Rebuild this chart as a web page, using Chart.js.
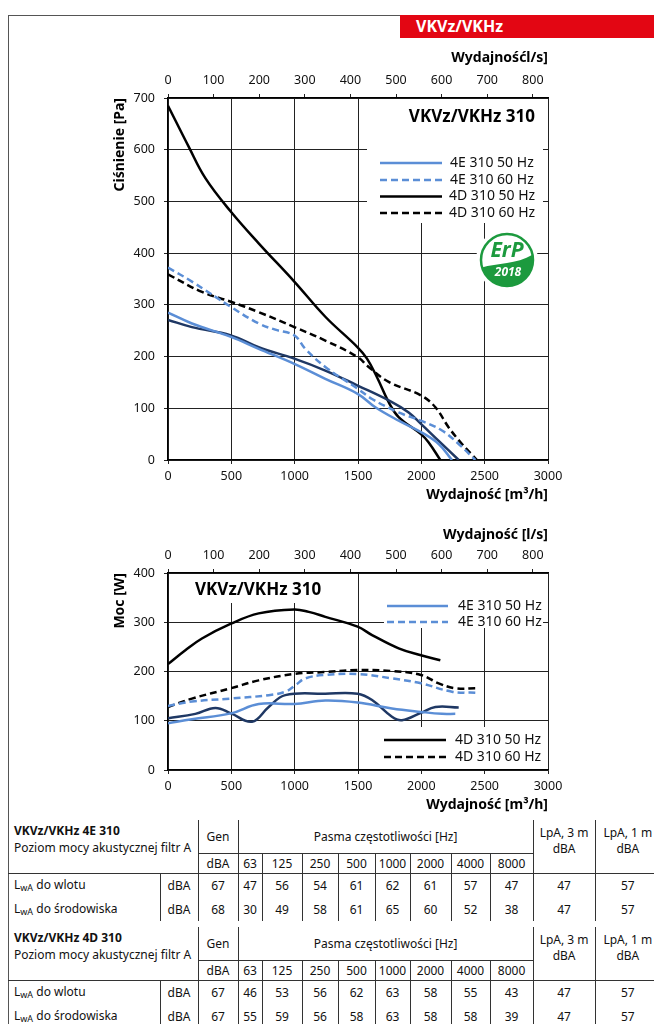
<!DOCTYPE html>
<html>
<head>
<meta charset="utf-8">
<script src="https://cdn.jsdelivr.net/npm/chart.js@4.4.0/dist/chart.umd.min.js"></script>
<style>
  body { margin: 0; width: 654px; height: 1024px; overflow: hidden; background: #fff; position: relative; font-family: "Noto Sans", sans-serif; color: #111; }
  #frame { position: absolute; left: 8px; top: 15px; width: 660px; height: 1020px; border-left: 1.5px solid #555; border-top: 1.5px solid #555; }
  #tag { position: absolute; left: 400px; top: 15px; width: 254px; height: 23px; background: #e30613; color: #fff; font-weight: bold; font-size: 16px; line-height: 23px; padding-left: 16px; box-sizing: border-box; }
  canvas { position: absolute; left: 0; }
  #c1 { top: 40px; }
  #c2 { top: 515px; }
  table.snd { position: absolute; left: 8px; width: 652px; border-collapse: collapse; table-layout: fixed; font-size: 12px; }
  table.snd td { padding: 0; text-align: center; white-space: nowrap; }
  table.snd td.lab { text-align: left; padding-left: 6px; }
  table.snd td.vl { border-left: 1px solid #333; }
  table.snd td.hb { border-bottom: 1px solid #333; }
  table.snd sub { font-size: 9px; vertical-align: -2px; }
</style>
</head>
<body>
<div id="frame"></div>
<div id="tag">VKVz/VKHz</div>
<canvas id="c1" width="654" height="470"></canvas>
<canvas id="c2" width="654" height="305"></canvas>
<script>
// ticks
const mhTicks = [0, 500, 1000, 1500, 2000, 2500, 3000];
const lsTicks = [0, 100, 200, 300, 400, 500, 600, 700, 800];
const paTicks = [0, 100, 200, 300, 400, 500, 600, 700];
const wTicks = [0, 100, 200, 300, 400];

// pressure curves [m3/h, Pa]
const pa4E50 = [[0,285],[189,264],[497,238],[716,215],[997,186],[1242,157],[1497,128],[1637,102],[1821,76],[1997,54],[2137,31],[2242,0]];
const pa4E60 = [[0,372],[189,345],[497,296],[716,264],[847,252],[997,241],[1084,215],[1242,180],[1497,138],[1611,118],[1821,92],[1997,76],[2163,57],[2295,31],[2426,0]];
const pa4D50 = [[0,685],[163,606],[295,545],[497,480],[716,419],[997,345],[1242,277],[1497,218],[1571,196],[1650,160],[1742,112],[1821,83],[1997,50],[2058,34],[2150,0]];
const pa4D60 = [[0,359],[268,325],[497,306],[716,286],[997,257],[1242,231],[1497,199],[1584,180],[1742,151],[1997,125],[2111,102],[2216,63],[2321,31],[2439,0]];
const paNavy = [[0,271],[189,257],[497,241],[716,218],[997,196],[1242,173],[1497,144],[1768,112],[1900,92],[1997,70],[2137,37],[2295,0]];

// power curves [m3/h, W]
const pw4E50 = [[0,95],[189,103],[497,115],[716,134],[997,134],[1242,141],[1497,137],[1768,125],[1997,118],[2163,114],[2268,114]];
const pw4E60 = [[0,130],[189,139],[497,145],[795,152],[926,159],[1005,172],[1084,186],[1242,193],[1497,195],[1768,186],[1997,176],[2242,159],[2426,157]];
const pw4D50 = [[0,215],[137,243],[268,267],[497,297],[716,318],[997,326],[1111,321],[1242,311],[1497,291],[1611,274],[1821,247],[1997,233],[2150,223]];
const pw4D60 = [[0,128],[189,145],[497,166],[716,182],[997,195],[1242,199],[1497,203],[1768,201],[1997,193],[2137,176],[2268,166],[2439,166]];
const pwNavy = [[0,105],[216,114],[374,126],[497,115],[663,98],[795,128],[926,152],[1242,155],[1497,155],[1611,142],[1768,108],[1847,101],[1997,116],[2111,128],[2295,127]];

// acoustic tables
const bands = ['63', '125', '250', '500', '1000', '2000', '4000', '8000'];
const e4Inlet = [67, 47, 56, 54, 61, 62, 61, 57, 47, 47, 57];
const e4Env = [68, 30, 49, 58, 61, 65, 60, 52, 38, 47, 57];
const d4Inlet = [67, 46, 53, 56, 62, 63, 58, 55, 43, 47, 57];
const d4Env = [67, 55, 59, 56, 58, 63, 58, 58, 39, 47, 57];

const FONT = '"Noto Sans", sans-serif';
const LIGHT = '#5b8ed6';
const NAVY = '#1f3864';
const BLACK = '#000';

function ds(label, pts, color, dashed) {
  return {
    label: label,
    data: pts.map(p => ({x: p[0], y: p[1]})),
    borderColor: color,
    borderWidth: 2.5,
    borderDash: dashed ? [7, 4] : [],
    pointRadius: 0,
    tension: 0.4,
    fill: false
  };
}

function fixTicks(list) {
  return function (scale) {
    scale.ticks = list.map(v => ({value: v}));
  };
}

// white boxes, titles, legends and logo drawn on top of the grid
const overlay = {
  id: 'overlay',
  beforeDatasetsDraw(chart, args, opts) {
    const ctx = chart.ctx;
    ctx.save();
    ctx.fillStyle = '#fff';
    (opts.masks || []).forEach(m => ctx.fillRect(m[0], m[1], m[2] - m[0], m[3] - m[1]));
    ctx.restore();
  },
  afterDatasetsDraw(chart, args, opts) {
    const ctx = chart.ctx;
    ctx.save();
    if (opts.title) {
      ctx.font = 'bold 17px ' + FONT;
      ctx.fillStyle = '#000';
      ctx.textBaseline = 'middle';
      ctx.textAlign = opts.title.align;
      ctx.fillText('VKVz/VKHz 310', opts.title.x, opts.title.y);
    }
    (opts.legend || []).forEach(it => {
      ctx.beginPath();
      ctx.strokeStyle = it.color;
      ctx.lineWidth = 2.5;
      ctx.setLineDash(it.dashed ? [7, 4] : []);
      ctx.moveTo(it.x0, it.y);
      ctx.lineTo(it.x1, it.y);
      ctx.stroke();
      ctx.setLineDash([]);
      ctx.font = '14px ' + FONT;
      ctx.fillStyle = '#111';
      ctx.textAlign = 'left';
      ctx.textBaseline = 'middle';
      ctx.fillText(it.text, it.xt, it.y);
    });
    if (opts.logo) drawErp(ctx, opts.logo[0], opts.logo[1]);
    ctx.restore();
  }
};

function drawErp(ctx, cx, cy) {
  const green = '#1c9a3e';
  ctx.save();
  ctx.fillStyle = '#fff';
  ctx.beginPath();
  ctx.arc(cx, cy, 31, 0, Math.PI * 2);
  ctx.fill();
  ctx.beginPath();
  ctx.arc(cx, cy, 26, 0, Math.PI * 2);
  ctx.save();
  ctx.clip();
  ctx.fillStyle = green;
  ctx.beginPath();
  ctx.moveTo(cx - 30, cy + 9);
  ctx.bezierCurveTo(cx - 10, cy + 2, cx + 10, cy + 6, cx + 30, cy - 8);
  ctx.lineTo(cx + 30, cy + 30);
  ctx.lineTo(cx - 30, cy + 30);
  ctx.closePath();
  ctx.fill();
  ctx.restore();
  ctx.strokeStyle = green;
  ctx.lineWidth = 2.5;
  ctx.beginPath();
  ctx.arc(cx, cy, 26, 0, Math.PI * 2);
  ctx.stroke();
  ctx.fillStyle = green;
  ctx.textAlign = 'center';
  ctx.textBaseline = 'middle';
  ctx.font = 'italic bold 21px ' + FONT;
  ctx.fillText('ErP', cx, cy - 9);
  ctx.fillStyle = '#fff';
  ctx.font = 'italic bold 12px ' + FONT;
  ctx.fillText('2018', cx + 1, cy + 13);
  ctx.restore();
}

function plain(v) {
  return String(v);
}

function axes(topTitle, yTitle, yMax, yTicks, topH) {
  const tickFont = {family: FONT, size: 12.5};
  const titleFont = {family: FONT, size: 14, weight: 'bold'};
  return {
    x: {
      type: 'linear', position: 'bottom', min: 0, max: 3000,
      afterBuildTicks: fixTicks(mhTicks),
      afterFit: s => { s.height = 43; },
      grid: {color: '#222', lineWidth: 1, tickLength: 4},
      border: {color: '#000', width: 1.2},
      ticks: {color: '#111', font: tickFont, padding: 5, maxRotation: 0, callback: plain},
      title: {display: true, text: 'Wydajność [m³/h]', align: 'end', color: '#000', font: titleFont, padding: 0}
    },
    x2: {
      type: 'linear', position: 'top', min: 0, max: 3000 / 3.6,
      afterBuildTicks: fixTicks(lsTicks),
      afterFit: s => { s.height = topH; },
      grid: {drawOnChartArea: false, color: '#222', tickLength: 4},
      border: {color: '#000', width: 1.2},
      ticks: {color: '#111', font: tickFont, padding: 6, maxRotation: 0, callback: plain},
      title: {display: true, text: topTitle, align: 'end', color: '#000', font: titleFont, padding: 0}
    },
    y: {
      type: 'linear', position: 'left', min: 0, max: yMax,
      afterBuildTicks: fixTicks(yTicks),
      afterFit: s => { s.width = 56; },
      grid: {color: '#222', lineWidth: 1, tickLength: 4},
      border: {color: '#000', width: 1.2},
      ticks: {color: '#111', font: tickFont, padding: 9, callback: plain},
      title: {display: true, text: yTitle, align: 'end', color: '#000', font: titleFont, padding: 0}
    }
  };
}

new Chart(document.getElementById('c1'), {
  type: 'line',
  data: {
    datasets: [
      ds('4E 310 60 Hz', pa4E60, LIGHT, true),
      ds('4D 310 60 Hz', pa4D60, BLACK, true),
      ds('4E 310 50 Hz', pa4E50, LIGHT, false),
      ds('', paNavy, NAVY, false),
      ds('4D 310 50 Hz', pa4D50, BLACK, false)
    ]
  },
  options: {
    responsive: false,
    animation: false,
    layout: {padding: {left: 112, right: 106, top: 10, bottom: 7}},
    scales: axes('Wydajnośćl/s]', 'Ciśnienie [Pa]', 700, paTicks, 48),
    plugins: {
      legend: {display: false},
      tooltip: {enabled: false},
      overlay: {
        masks: [[367, 59, 543, 183]],
        title: {x: 535, y: 77, align: 'right'},
        legend: [
          {text: '4E 310 50 Hz', color: LIGHT, dashed: false, x0: 380, x1: 442, xt: 450, y: 123},
          {text: '4E 310 60 Hz', color: LIGHT, dashed: true, x0: 380, x1: 442, xt: 450, y: 140},
          {text: '4D 310 50 Hz', color: BLACK, dashed: false, x0: 380, x1: 442, xt: 449, y: 156.5},
          {text: '4D 310 60 Hz', color: BLACK, dashed: true, x0: 380, x1: 442, xt: 449, y: 173}
        ],
        logo: [507, 220]
      }
    }
  },
  plugins: [overlay]
});

new Chart(document.getElementById('c2'), {
  type: 'line',
  data: {
    datasets: [
      ds('4E 310 60 Hz', pw4E60, LIGHT, true),
      ds('4D 310 60 Hz', pw4D60, BLACK, true),
      ds('4E 310 50 Hz', pw4E50, LIGHT, false),
      ds('', pwNavy, NAVY, false),
      ds('4D 310 50 Hz', pw4D50, BLACK, false)
    ]
  },
  options: {
    responsive: false,
    animation: false,
    layout: {padding: {left: 112, right: 106, top: 12, bottom: 7}},
    scales: axes('Wydajność [l/s]', 'Moc [W]', 400, wTicks, 46),
    plugins: {
      legend: {display: false},
      tooltip: {enabled: false},
      overlay: {
        masks: [[188, 59, 330, 88], [384, 59, 543, 113], [380, 212, 543, 254]],
        title: {x: 195, y: 75, align: 'left'},
        legend: [
          {text: '4E 310 50 Hz', color: LIGHT, dashed: false, x0: 387, x1: 448, xt: 458, y: 91},
          {text: '4E 310 60 Hz', color: LIGHT, dashed: true, x0: 387, x1: 448, xt: 458, y: 107},
          {text: '4D 310 50 Hz', color: BLACK, dashed: false, x0: 384, x1: 446, xt: 455, y: 225},
          {text: '4D 310 60 Hz', color: BLACK, dashed: true, x0: 384, x1: 446, xt: 455, y: 242}
        ]
      }
    }
  },
  plugins: [overlay]
});

// sound power tables
const colWidths = [152, 38, 40, 24, 40, 36, 37, 35, 41, 39, 43, 62, 65];

function cell(tr, html, cls, attrs) {
  let td = document.createElement('td');
  td.innerHTML = html;
  if (cls) td.className = cls;
  for (let k in (attrs || {})) td.setAttribute(k, attrs[k]);
  tr.appendChild(td);
  return td;
}

function buildTable(top, title, inlet, env) {
  let table = document.createElement('table');
  table.className = 'snd';
  table.style.top = top + 'px';
  let cg = document.createElement('colgroup');
  colWidths.forEach(w => {
    let c = document.createElement('col');
    c.style.width = w + 'px';
    cg.appendChild(c);
  });
  table.appendChild(cg);

  let r1 = document.createElement('tr');
  r1.style.height = '33px';
  let t = cell(r1, '<b>' + title + '</b><br>Poziom mocy akustycznej filtr A', 'lab', {colspan: 2, rowspan: 2});
  t.style.verticalAlign = 'top';
  t.style.paddingTop = '2px';
  t.style.lineHeight = '17px';
  cell(r1, 'Gen', 'vl hb');
  cell(r1, 'Pasma częstotliwości [Hz]', 'vl hb', {colspan: 8});
  let l3 = cell(r1, 'LpA, 3 m<br>dBA', 'vl', {rowspan: 2});
  let l1 = cell(r1, 'LpA, 1 m<br>dBA', 'vl', {rowspan: 2});
  [l3, l1].forEach(c => { c.style.verticalAlign = 'top'; c.style.paddingTop = '5px'; c.style.lineHeight = '16px'; });
  table.appendChild(r1);

  let r2 = document.createElement('tr');
  r2.style.height = '20px';
  cell(r2, 'dBA', 'vl hb');
  bands.forEach(b => cell(r2, b, 'vl hb'));
  table.appendChild(r2);

  [['L<sub>wA</sub> do wlotu', inlet], ['L<sub>wA</sub> do środowiska', env]].forEach(row => {
    let tr = document.createElement('tr');
    tr.style.height = '24px';
    cell(tr, row[0], 'lab');
    cell(tr, 'dBA', 'vl');
    row[1].forEach(v => cell(tr, String(v), 'vl'));
    table.appendChild(tr);
  });
  document.body.appendChild(table);
  // rule under header spans the label and LpA columns too
  let rule = document.createElement('div');
  rule.style.cssText = 'position:absolute;left:8px;width:652px;height:1px;background:#333;top:' + (top + 53) + 'px';
  document.body.appendChild(rule);
}

buildTable(820, 'VKVz/VKHz 4E 310', e4Inlet, e4Env);
buildTable(927, 'VKVz/VKHz 4D 310', d4Inlet, d4Env);
</script>
</body>
</html>
